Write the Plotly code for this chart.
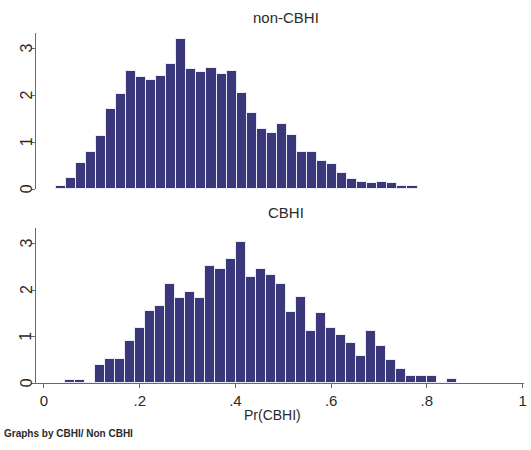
import numpy as np
import plotly.graph_objects as go

# ---- data (density per bin) ----
bin_width = 0.021
noncbhi_start = 0.0245
cbhi_start = 0.0433

noncbhi_density = [0.07, 0.25, 0.57, 0.79, 1.14, 1.72, 2.02, 2.52, 2.40, 2.33,
                   2.41, 2.68, 3.21, 2.56, 2.50, 2.58, 2.45, 2.52, 2.06, 1.63,
                   1.29, 1.19, 1.39, 1.16, 0.79, 0.79, 0.61, 0.54, 0.34, 0.23,
                   0.16, 0.13, 0.16, 0.14, 0.08, 0.08]

cbhi_density = [0.08, 0.08, 0.0, 0.39, 0.52, 0.52, 0.91, 1.18, 1.55, 1.66,
                2.14, 1.82, 1.95, 1.82, 2.51, 2.45, 2.66, 3.04, 2.29, 2.45,
                2.32, 2.14, 1.52, 1.84, 1.13, 1.50, 1.19, 1.04, 0.86, 0.58,
                1.13, 0.79, 0.49, 0.30, 0.16, 0.16, 0.16, 0.0, 0.09]

panel_titles = ["non-CBHI", "CBHI"]
x_ticks = [0, 0.2, 0.4, 0.6, 0.8, 1]
x_ticklabels = ["0", ".2", ".4", ".6", ".8", "1"]
y_ticks = [0, 1, 2, 3]
y_ticklabels = ["0", "1", "2", "3"]
x_title = "Pr(CBHI)"
note = "Graphs by CBHI/ Non CBHI"

# ---- styling ----
W, H = 531, 450
BAR = "rgb(58,55,122)"
EDGE = "rgb(236,236,248)"
AXC = "#6a6a6a"
TXT = "#2a2a2a"
FONT = "Liberation Sans, Arial, sans-serif"

def centers(start, n):
    return start + (np.arange(n) + 0.5) * bin_width

fig = go.Figure()
fig.add_trace(go.Bar(x=centers(noncbhi_start, len(noncbhi_density)), y=noncbhi_density,
                     width=bin_width, marker=dict(color=BAR, line=dict(color=EDGE, width=1)),
                     xaxis="x", yaxis="y", showlegend=False, hoverinfo="x+y"))
fig.add_trace(go.Bar(x=centers(cbhi_start, len(cbhi_density)), y=cbhi_density,
                     width=bin_width, marker=dict(color=BAR, line=dict(color=EDGE, width=1)),
                     xaxis="x2", yaxis="y2", showlegend=False, hoverinfo="x+y"))

xdom = [36 / W, 524 / W]
ydom_top = [(H - 189.3) / H, (H - 33) / H]
ydom_bot = [(H - 383.3) / H, (H - 228) / H]
xrange = [-0.0167, 1.003]
yrange = [0, 3.33]

yax = dict(range=yrange, tickvals=y_ticks, showticklabels=False,
           showline=True, linecolor=AXC, linewidth=1, ticks="outside", ticklen=4,
           tickcolor=AXC, showgrid=False, zeroline=False, automargin=False)

annotations = [
    dict(text=panel_titles[0], x=286 / W, y=(H - 17) / H, xref="paper", yref="paper",
         showarrow=False, xanchor="center", yanchor="middle",
         font=dict(family=FONT, size=15, color=TXT)),
    dict(text=panel_titles[1], x=286 / W, y=(H - 212) / H, xref="paper", yref="paper",
         showarrow=False, xanchor="center", yanchor="middle",
         font=dict(family=FONT, size=15, color=TXT)),
    dict(text=x_title, x=272 / W, y=(H - 415) / H, xref="paper", yref="paper",
         showarrow=False, xanchor="center", yanchor="middle",
         font=dict(family=FONT, size=14, color=TXT)),
    dict(text="<b>" + note + "</b>", x=2 / W, y=(H - 433) / H, xref="paper", yref="paper",
         showarrow=False, xanchor="left", yanchor="middle",
         font=dict(family=FONT, size=10, color=TXT)),
]
# rotated y tick labels (Stata style), placed on the data scale of each panel
for yref in ("y", "y2"):
    for v, t in zip(y_ticks, y_ticklabels):
        annotations.append(dict(text=t, x=26 / W, y=v, xref="paper", yref=yref,
                                textangle=-90, showarrow=False,
                                xanchor="center", yanchor="middle",
                                font=dict(family=FONT, size=16, color=TXT)))

fig.update_layout(
    template="none",
    width=W, height=H, autosize=False,
    margin=dict(l=0, r=0, t=0, b=0, pad=0, autoexpand=False),
    paper_bgcolor="white", plot_bgcolor="white",
    bargap=0,
    xaxis=dict(domain=xdom, range=xrange, anchor="y", showline=False, showticklabels=False,
               ticks="", showgrid=False, zeroline=False, automargin=False),
    yaxis=dict(domain=ydom_top, anchor="x", **yax),
    xaxis2=dict(domain=xdom, range=xrange, anchor="y2", tickvals=x_ticks, ticktext=x_ticklabels,
                showline=True, linecolor=AXC, linewidth=1, ticks="outside", ticklen=4,
                tickcolor=AXC, showgrid=False, zeroline=False, automargin=False,
                ticklabeloverflow="allow",
                tickfont=dict(family=FONT, size=15, color=TXT)),
    yaxis2=dict(domain=ydom_bot, anchor="x2", **yax),
    annotations=annotations,
)

fig.write_html("out.html", config={"displayModeBar": False},
               post_script="document.body.style.margin='0';document.body.style.padding='0';")
